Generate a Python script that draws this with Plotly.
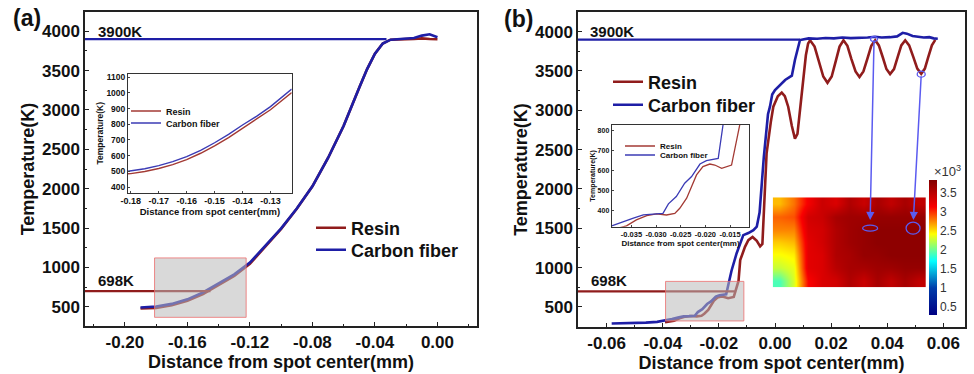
import plotly.graph_objects as go

# ---------------- data ----------------
# Panel (a): main curves
a_x = [-0.190, -0.185, -0.180, -0.170, -0.160, -0.150, -0.140, -0.130, -0.120, -0.110, -0.100,
       -0.090, -0.080, -0.070, -0.060, -0.050, -0.045, -0.040, -0.035, -0.030, -0.025, -0.020,
       -0.015, -0.010, -0.005, 0.000]
a_resin = [478, 480, 485, 518, 575, 662, 775, 892, 1045, 1265, 1490,
           1745, 2030, 2390, 2800, 3285, 3520, 3715, 3845, 3893, 3900, 3900,
           3902, 3910, 3902, 3898]
a_cf = [490, 493, 503, 536, 594, 682, 795, 912, 1060, 1275, 1495,
        1747, 2030, 2390, 2800, 3285, 3520, 3715, 3845, 3893, 3902, 3905,
        3915, 3945, 3962, 3925]

# Panel (a) inset
ai_x = [-0.181, -0.180, -0.175, -0.170, -0.165, -0.160, -0.155, -0.150, -0.145, -0.140, -0.135, -0.130, -0.1224]
ai_resin = [484, 485, 499, 518, 543, 575, 615, 662, 715, 775, 830, 892, 1002]
ai_cf = [500, 502, 516, 536, 562, 594, 634, 682, 735, 795, 850, 912, 1024]

# Panel (b): main curves
b_x_resin = [-0.0392, -0.0360, -0.0340, -0.0319, -0.0299, -0.0279, -0.0262, -0.0252, -0.0238, -0.0218,
             -0.0205, -0.0191, -0.0181, -0.0167, -0.0147, -0.0130, -0.0124, -0.0107, -0.0095, -0.0080,
             -0.0065, -0.0053, -0.0045, -0.0035, -0.0030, -0.0015, -0.0006, 0.0010, 0.0024, 0.0035,
             0.0047, 0.0060, 0.0071, 0.0080, 0.0089, 0.0100, 0.0110, 0.0118, 0.0125,
             0.0141, 0.0156, 0.0172, 0.0187, 0.0202, 0.0216, 0.0230, 0.0244,
             0.0258, 0.0272, 0.0287, 0.0301, 0.0315, 0.0329, 0.0343, 0.0357,
             0.0370, 0.0384, 0.0397, 0.0410, 0.0424, 0.0437, 0.0450, 0.0464,
             0.0478, 0.0493, 0.0507, 0.0521, 0.0534, 0.0546, 0.0559, 0.0571]
b_resin = [305, 326, 356, 377, 385, 380, 388, 413, 463, 578,
           619, 632, 627, 611, 627, 830, 1095, 1264, 1349, 1390,
           1340, 1270, 1300, 2000, 2452, 2850, 3046, 3180, 3225, 3180,
           3046, 2800, 2640, 2700, 3004, 3400, 3700, 3850, 3890,
           3810, 3620, 3430, 3350, 3430, 3620, 3810, 3890,
           3820, 3655, 3495, 3425, 3495, 3655, 3820, 3890,
           3825, 3675, 3525, 3460, 3525, 3675, 3825, 3890,
           3826, 3677, 3530, 3465, 3530, 3677, 3826, 3895]

b_x_cf = [-0.0582, -0.0520, -0.0460, -0.0420, -0.0390, -0.0367, -0.0346, -0.0326, -0.0306, -0.0286,
          -0.0275, -0.0259, -0.0242, -0.0228, -0.0211, -0.0198, -0.0174, -0.0164, -0.0155, -0.0137,
          -0.0113, -0.0095, -0.0077, -0.0065, -0.0055, -0.0040, -0.0025, -0.0018, -0.0010, 0.0000,
          0.0020, 0.0036, 0.0060, 0.0071, 0.0089, 0.0120, 0.0150, 0.0180, 0.0210, 0.0240,
          0.0270, 0.0300, 0.0330, 0.0357, 0.0380, 0.0410, 0.0435, 0.0455, 0.0470, 0.0490,
          0.0510, 0.0530, 0.0550, 0.0565, 0.0580]
b_cf = [289, 292, 300, 310, 326, 347, 364, 380, 383, 388,
        435, 471, 537, 570, 632, 649, 660, 816, 960, 1180,
        1413, 1440, 1477, 1520, 1700, 2400, 2950, 3046, 3200, 3258,
        3330, 3385, 3440, 3640, 3894, 3915, 3910, 3920, 3915, 3925,
        3918, 3920, 3925, 3935, 3925, 3930, 3940, 3985, 3975, 3945,
        3935, 3925, 3930, 3915, 3910]

# Panel (b) inset
bi_x_resin = [-0.0392, -0.0360, -0.0340, -0.0319, -0.0299, -0.0279, -0.0262, -0.0252, -0.0238, -0.0218,
              -0.0205, -0.0191, -0.0181, -0.0167, -0.0147, -0.0130]
bi_resin = [305, 326, 356, 377, 385, 380, 388, 413, 463, 578,
            619, 632, 627, 611, 627, 830]
bi_x_cf = [-0.0390, -0.0367, -0.0346, -0.0326, -0.0306, -0.0286, -0.0275, -0.0259, -0.0242, -0.0228,
           -0.0211, -0.0198, -0.0174, -0.0164]
bi_cf = [326, 347, 364, 380, 383, 388, 435, 471, 537, 570,
         632, 649, 660, 830]

# temperature field (x10^3 K), rows top to bottom
field_z = [
    [2.60, 2.80, 3.15, 3.40, 3.30, 3.55, 3.40, 3.60, 3.45, 3.60, 3.45],
    [2.85, 2.90, 3.35, 3.40, 3.60, 3.65, 3.65, 3.70, 3.70, 3.70, 3.70],
    [2.75, 2.75, 3.30, 3.35, 3.55, 3.65, 3.70, 3.75, 3.75, 3.75, 3.75],
    [2.55, 2.60, 3.25, 3.35, 3.55, 3.65, 3.70, 3.75, 3.75, 3.75, 3.75],
    [2.40, 2.45, 3.25, 3.30, 3.55, 3.60, 3.70, 3.70, 3.75, 3.75, 3.75],
    [2.25, 2.35, 3.25, 3.30, 3.50, 3.60, 3.60, 3.65, 3.65, 3.70, 3.70],
    [1.90, 2.30, 3.10, 3.30, 3.35, 3.55, 3.40, 3.60, 3.45, 3.60, 3.45],
]
cbar_vals = [0.5, 1, 1.5, 2, 2.5, 3, 3.5]
cbar_text = ["0.5", "1", "1.5", "2", "2.5", "3", "3.5"]

a_xticks = [-0.20, -0.16, -0.12, -0.08, -0.04, 0.00]
a_xtext = ["-0.20", "-0.16", "-0.12", "-0.08", "-0.04", "0.00"]
b_xticks = [-0.06, -0.04, -0.02, 0.00, 0.02, 0.04, 0.06]
b_xtext = ["-0.06", "-0.04", "-0.02", "0.00", "0.02", "0.04", "0.06"]
ai_xticks = [-0.18, -0.17, -0.16, -0.15, -0.14, -0.13]
ai_xtext = ["-0.18", "-0.17", "-0.16", "-0.15", "-0.14", "-0.13"]
bi_xticks = [-0.035, -0.030, -0.025, -0.020, -0.015]
bi_xtext = ["-0.035", "-0.030", "-0.025", "-0.020", "-0.015"]
t_ticks = [500, 1000, 1500, 2000, 2500, 3000, 3500, 4000]

# ---------------- style ----------------
FONT = "Liberation Sans, Arial, sans-serif"
RED = "#901c1c"
BLUE = "#1e1ea6"
RED_I = "#a33a34"
BLUE_I = "#3b3bb5"
ARROW = "#5b5bf0"
W, H = 974, 374


def px2x(p):
    return p / W


def py2y(p):
    return 1 - p / H


fig = go.Figure()

# panel a
fig.add_trace(go.Scatter(x=a_x, y=a_resin, xaxis="x", yaxis="y", mode="lines", name="Resin",
                         line=dict(color=RED, width=2.6), legend="legend"))
fig.add_trace(go.Scatter(x=a_x, y=a_cf, xaxis="x", yaxis="y", mode="lines", name="Carbon fiber",
                         line=dict(color=BLUE, width=2.6), legend="legend7"))
# inset a
fig.add_trace(go.Scatter(x=ai_x, y=ai_resin, xaxis="x2", yaxis="y2", mode="lines", name="Resin",
                         line=dict(color=RED_I, width=1.4), legend="legend2"))
fig.add_trace(go.Scatter(x=ai_x, y=ai_cf, xaxis="x2", yaxis="y2", mode="lines", name="Carbon fiber",
                         line=dict(color=BLUE_I, width=1.4), legend="legend5"))
# panel b
fig.add_trace(go.Scatter(x=b_x_resin, y=b_resin, xaxis="x3", yaxis="y3", mode="lines", name="Resin",
                         line=dict(color=RED, width=2.6), legend="legend3"))
fig.add_trace(go.Scatter(x=b_x_cf, y=b_cf, xaxis="x3", yaxis="y3", mode="lines", name="Carbon fiber",
                         line=dict(color=BLUE, width=2.6), legend="legend8"))
# inset b
fig.add_trace(go.Scatter(x=bi_x_resin, y=bi_resin, xaxis="x4", yaxis="y4", mode="lines", name="Resin",
                         line=dict(color=RED_I, width=1.3), legend="legend4"))
fig.add_trace(go.Scatter(x=bi_x_cf, y=bi_cf, xaxis="x4", yaxis="y4", mode="lines", name="Carbon fiber",
                         line=dict(color=BLUE_I, width=1.3), legend="legend6"))
# temperature field
fig.add_trace(go.Heatmap(z=field_z, x0=0.5, dx=1, y0=0.5, dy=1, xaxis="x5", yaxis="y5",
                         colorscale="Jet", zmin=0.28, zmax=3.83, zsmooth="best", showlegend=False,
                         colorbar=dict(x=px2x(929), xanchor="left", xpad=0, ypad=0,
                                       y=py2y(247.5), yanchor="middle",
                                       thickness=8, len=135, lenmode="pixels", outlinewidth=0,
                                       tickvals=cbar_vals, ticktext=cbar_text, ticks="",
                                       tickfont=dict(family=FONT, size=12, color="#333"))))


def main_axis(dom, rng, **kw):
    d = dict(domain=dom, range=rng, showline=True, linecolor="#222", linewidth=1.5, mirror=True,
             ticks="inside", ticklen=4, tickcolor="#222", showgrid=False, zeroline=False,
             tickfont=dict(family=FONT, size=17, color="#111", weight="bold"))
    d.update(kw)
    return d


title_font = dict(family=FONT, size=18, color="#111", weight="bold")
a_xdom = [px2x(85), px2x(477)]
a_ydom = [py2y(326), py2y(12)]
b_xdom = [px2x(578), px2x(965)]
b_ydom = [py2y(327), py2y(12)]


def one_legend(px, py, size):
    return dict(x=px2x(px), y=py2y(py), xanchor="left", yanchor="middle", bgcolor="rgba(0,0,0,0)",
                font=dict(family=FONT, size=size, color="#111", weight="bold"), itemwidth=30,
                borderwidth=0, visible=True)


fig.update_layout(
    width=W, height=H, margin=dict(l=0, r=0, t=0, b=0, autoexpand=False),
    paper_bgcolor="white", plot_bgcolor="white", showlegend=True,
    font=dict(family=FONT, color="#111"),
    xaxis=main_axis(a_xdom, [-0.2255, 0.0253], anchor="y", tickvals=a_xticks, ticktext=a_xtext,
                    minor=dict(dtick=0.02, ticklen=2, tickcolor="#222", ticks="inside"),
                    title=dict(text="Distance from spot center(mm)", font=title_font, standoff=1)),
    yaxis=main_axis(a_ydom, [255, 4245], anchor="x", tickvals=t_ticks,
                    minor=dict(dtick=250, ticklen=2, tickcolor="#222", ticks="inside"),
                    title=dict(text="Temperature(K)", font=title_font, standoff=3)),
    xaxis3=main_axis(b_xdom, [-0.0702, 0.0677], anchor="y3", tickvals=b_xticks, ticktext=b_xtext,
                     minor=dict(dtick=0.01, ticklen=2, tickcolor="#222", ticks="inside"),
                     title=dict(text="Distance from spot center(mm)", font=title_font, standoff=1)),
    yaxis3=main_axis(b_ydom, [245, 4250], anchor="x3", tickvals=t_ticks,
                     minor=dict(dtick=250, ticklen=2, tickcolor="#222", ticks="inside"),
                     title=dict(text="Temperature(K)", font=title_font, standoff=3)),
    xaxis2=dict(domain=[px2x(128), px2x(291.7)], range=[-0.181, -0.1224], anchor="y2",
                showline=True, linecolor="#333", linewidth=1, mirror=True, ticks="inside", ticklen=2,
                showgrid=False, zeroline=False, tickvals=ai_xticks, ticktext=ai_xtext,
                tickfont=dict(family=FONT, size=9, color="#111", weight="bold"),
                title=dict(text="Distance from spot center(mm)", standoff=1,
                           font=dict(family=FONT, size=9.5, color="#111", weight="bold"))),
    yaxis2=dict(domain=[py2y(192.5), py2y(74)], range=[365, 1120], anchor="x2",
                showline=True, linecolor="#333", linewidth=1, mirror=True, ticks="inside", ticklen=2,
                showgrid=False, zeroline=False, dtick=100,
                tickfont=dict(family=FONT, size=8.5, color="#111", weight="bold"),
                title=dict(text="Temperature(K)", standoff=1,
                           font=dict(family=FONT, size=8.5, color="#111", weight="bold"))),
    xaxis4=dict(domain=[px2x(611.7), px2x(749.3)], range=[-0.039, -0.0111], anchor="y4",
                showline=True, linecolor="#333", linewidth=1, mirror=True, ticks="inside", ticklen=2,
                showgrid=False, zeroline=False, tickvals=bi_xticks, ticktext=bi_xtext,
                tickfont=dict(family=FONT, size=7.5, color="#111", weight="bold"),
                title=dict(text="Distance from spot center(mm)", standoff=1,
                           font=dict(family=FONT, size=8, color="#111", weight="bold"))),
    yaxis4=dict(domain=[py2y(226.7), py2y(125)], range=[322, 825], anchor="x4",
                showline=True, linecolor="#333", linewidth=1, mirror=True, ticks="inside", ticklen=2,
                showgrid=False, zeroline=False, dtick=100,
                tickfont=dict(family=FONT, size=7, color="#111", weight="bold"),
                title=dict(text="Temperature(K)", standoff=1,
                           font=dict(family=FONT, size=7, color="#111", weight="bold"))),
    xaxis5=dict(domain=[px2x(772.7), px2x(926)], range=[0, 11], anchor="y5", visible=False),
    yaxis5=dict(domain=[py2y(287.3), py2y(197.3)], range=[7, 0], anchor="x5", visible=False),
    legend=one_legend(311, 228, 18),
    legend7=one_legend(311, 250, 18),
    legend3=one_legend(608, 82, 18),
    legend8=one_legend(608, 105, 18),
    legend2=one_legend(126, 111, 9),
    legend5=one_legend(126, 123, 9),
    legend4=one_legend(620, 146, 8),
    legend6=one_legend(620, 155, 8),
)

shapes = [
    # reference temperature lines
    dict(type="line", xref="x", yref="y", x0=-0.2255, x1=-0.0326, y0=3900, y1=3900,
         line=dict(color=BLUE, width=2.2)),
    dict(type="line", xref="x", yref="y", x0=-0.2255, x1=-0.1452, y0=698, y1=698,
         line=dict(color=RED, width=2.2)),
    dict(type="line", xref="x3", yref="y3", x0=-0.0702, x1=0.0089, y0=3900, y1=3900,
         line=dict(color=BLUE, width=2.2)),
    dict(type="line", xref="x3", yref="y3", x0=-0.0702, x1=-0.0143, y0=698, y1=698,
         line=dict(color=RED, width=2.2)),
    # zoom boxes
    dict(type="rect", xref="x", yref="y", x0=-0.181, x1=-0.1224, y0=365, y1=1120, layer="above",
         fillcolor="rgba(185,185,185,0.55)", line=dict(color="rgba(235,110,110,0.8)", width=1)),
    dict(type="rect", xref="x3", yref="y3", x0=-0.039, x1=-0.0111, y0=322, y1=825, layer="above",
         fillcolor="rgba(185,185,185,0.55)", line=dict(color="rgba(235,110,110,0.8)", width=1)),
]
# ellipses marking points
for xa, ya, hw, hh in [(0.0353, 3907, 3.5, 2.5), (0.0521, 3460, 4, 3),
                       (0.0339, 1502, 7.5, 3), (0.0492, 1502, 7, 6)]:
    shapes.append(dict(type="circle", xref="x3", yref="y3", xsizemode="pixel", ysizemode="pixel",
                       xanchor=xa, yanchor=ya, x0=-hw, x1=hw, y0=-hh, y1=hh,
                       line=dict(color=ARROW, width=1.3)))
fig.update_layout(shapes=shapes)

lab = dict(family=FONT, size=15, color="#111", weight="bold")
annotations = [
    dict(text="(a)", xref="paper", yref="paper", x=px2x(11), y=py2y(18), xanchor="left",
         yanchor="middle", showarrow=False, font=dict(family=FONT, size=23, color="#111", weight="bold")),
    dict(text="(b)", xref="paper", yref="paper", x=px2x(502), y=py2y(19), xanchor="left",
         yanchor="middle", showarrow=False, font=dict(family=FONT, size=23, color="#111", weight="bold")),
    dict(text="3900K", xref="x domain", yref="y", x=0, y=3900, xanchor="left", yanchor="bottom",
         xshift=11, yshift=-3, showarrow=False, font=lab),
    dict(text="698K", xref="x domain", yref="y", x=0, y=698, xanchor="left", yanchor="bottom",
         xshift=11, yshift=0, showarrow=False, font=lab),
    dict(text="3900K", xref="x3 domain", yref="y3", x=0, y=3900, xanchor="left", yanchor="bottom",
         xshift=10, yshift=-2, showarrow=False, font=lab),
    dict(text="698K", xref="x3 domain", yref="y3", x=0, y=698, xanchor="left", yanchor="bottom",
         xshift=11, yshift=0, showarrow=False, font=lab),
    dict(text="×10<sup>3</sup>", xref="paper", yref="paper", x=px2x(932), y=py2y(171),
         xanchor="left", yanchor="middle", showarrow=False,
         font=dict(family=FONT, size=13, color="#333")),
]
for hx, tx, ty in [(0.0339, 0.0353, 3907), (0.0493, 0.0521, 3449)]:
    annotations.append(dict(text="", xref="x3", yref="y3", x=hx, y=1604, axref="x3", ayref="y3",
                            ax=tx, ay=ty, showarrow=True, arrowhead=2, arrowsize=1.1, arrowwidth=1.5,
                            arrowcolor=ARROW, standoff=0, startstandoff=0))
fig.update_layout(annotations=annotations)

fig.write_html("out.html", config={"displayModeBar": False},
               post_script="document.body.style.margin='0';document.body.style.overflow='hidden';")
